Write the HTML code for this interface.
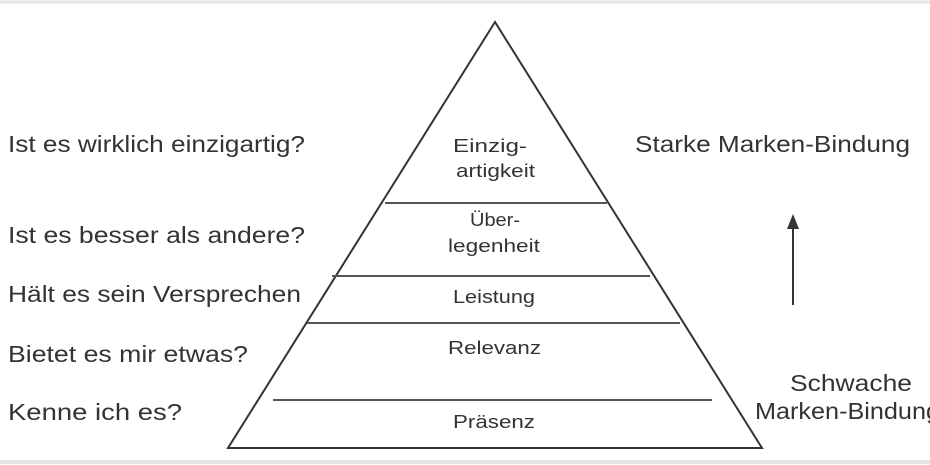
<!DOCTYPE html>
<html><head><style>
body{margin:0;background:#fff;}
svg{display:block;}
text{font-stretch:condensed;}
</style></head><body>
<svg width="930" height="465" xmlns="http://www.w3.org/2000/svg" font-family="Liberation Sans, sans-serif">
<rect x="0" y="0" width="930" height="465" fill="#fff"/>
<line x1="0" y1="2" x2="930" y2="2" stroke="#e4e4e4" stroke-width="3"/>
<line x1="0" y1="462" x2="930" y2="462" stroke="#e4e4e4" stroke-width="4"/>
<polygon points="495,22 228,448 762,448" fill="none" stroke="#333" stroke-width="2"/>
<g stroke="#555" stroke-width="2">
<line x1="385" y1="203" x2="607" y2="203"/>
<line x1="332" y1="276" x2="650" y2="276"/>
<line x1="307" y1="323" x2="680" y2="323"/>
<line x1="273" y1="400" x2="712" y2="400"/>
</g>
<g fill="#333" font-size="18">
<text x="453" y="152" textLength="74" lengthAdjust="spacingAndGlyphs">Einzig-</text>
<text x="456" y="177" textLength="79" lengthAdjust="spacingAndGlyphs">artigkeit</text>
<text x="470" y="226" textLength="50" lengthAdjust="spacingAndGlyphs">Über-</text>
<text x="448" y="252" textLength="92" lengthAdjust="spacingAndGlyphs">legenheit</text>
<text x="453" y="303" textLength="82" lengthAdjust="spacingAndGlyphs">Leistung</text>
<text x="448" y="354" textLength="93" lengthAdjust="spacingAndGlyphs">Relevanz</text>
<text x="453" y="428" textLength="82" lengthAdjust="spacingAndGlyphs">Präsenz</text>
</g>
<g fill="#333" font-size="23">
<text x="8" y="152" textLength="297" lengthAdjust="spacingAndGlyphs">Ist es wirklich einzigartig?</text>
<text x="8" y="243" textLength="297" lengthAdjust="spacingAndGlyphs">Ist es besser als andere?</text>
<text x="8" y="302" textLength="293" lengthAdjust="spacingAndGlyphs">Hält es sein Versprechen</text>
<text x="8" y="362" textLength="240" lengthAdjust="spacingAndGlyphs">Bietet es mir etwas?</text>
<text x="8" y="420" textLength="174" lengthAdjust="spacingAndGlyphs">Kenne ich es?</text>
<text x="635" y="152" textLength="275" lengthAdjust="spacingAndGlyphs">Starke Marken-Bindung</text>
<text x="790" y="391" textLength="122" lengthAdjust="spacingAndGlyphs">Schwache</text>
<text x="755" y="419" textLength="185" lengthAdjust="spacingAndGlyphs">Marken-Bindung</text>
</g>
<line x1="793" y1="305" x2="793" y2="228" stroke="#333" stroke-width="2"/>
<polygon points="793,214 787,229 799,229" fill="#333"/>
</svg>
</body></html>
